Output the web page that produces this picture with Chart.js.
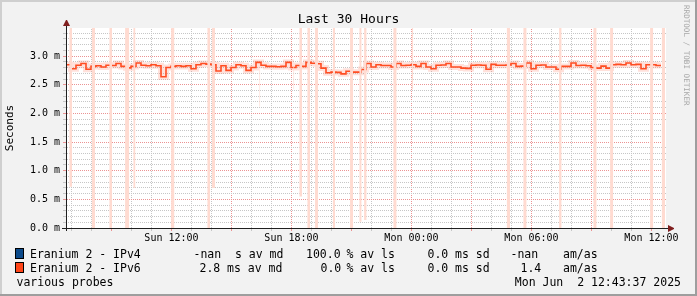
<!DOCTYPE html>
<html lang="en">
<head>
<meta charset="UTF-8">
<title>Last 30 Hours</title>
<script src="https://cdn.jsdelivr.net/npm/chart.js@4"></script>
<style>
  html, body { margin: 0; padding: 0; background: #f2f2f2; }
  #wrap { position: relative; width: 697px; height: 296px; background: #f2f2f2; overflow: hidden;
          font-family: "DejaVu Sans Mono", monospace; color: #000; }
  #wrap canvas { position: absolute; left: 0; top: 0; }
  .abs { position: absolute; }
  .txt { position: absolute; white-space: pre; font-size: 11.5px; line-height: 14px; }
  .title { position: absolute; left: 0; width: 697px; top: 11px; text-align: center; font-size: 13px; line-height: 16px; }
  .mark { position: absolute; left: 682px; top: 5px; writing-mode: vertical-rl; font-size: 7.6px; line-height: 8px;
          color: #a8a8a8; white-space: pre; }
  .box { position: absolute; left: 15px; width: 7px; height: 9px; border: 1px solid #000; }
</style>
</head>
<body>
<div id="wrap">
  <canvas id="rrdChart" width="697" height="296"></canvas>
  <!-- axes and arrows -->
  <div class="abs" style="left:66px;top:25px;width:1px;height:206px;background:#1f1f1f"></div>
  <div class="abs" style="left:62px;top:228px;width:608px;height:1px;background:#1f1f1f"></div>
  <div class="abs" style="left:63px;top:20px;width:1px;height:0;border-left:3px solid transparent;border-right:3px solid transparent;border-bottom:6px solid #801f1f"></div>
  <div class="abs" style="left:668px;top:225px;width:0;height:1px;border-top:3px solid transparent;border-bottom:3px solid transparent;border-left:6px solid #801f1f"></div>
  <div class="title">Last 30 Hours</div>
  <div class="mark">RRDTOOL / TOBI OETIKER</div>
  <div id="legend"></div>
  <div class="abs" style="left:0;top:0;width:697px;height:2px;background:#cfcfcf"></div>
  <div class="abs" style="left:0;top:0;width:2px;height:296px;background:#cfcfcf"></div>
  <div class="abs" style="left:0;top:294px;width:697px;height:2px;background:#9e9e9e"></div>
  <div class="abs" style="left:695px;top:0;width:2px;height:296px;background:#9e9e9e"></div>
</div>
<script>
// x axis is in hours since Sun Jun 1 2025 00:00
const startHour = 6.727;   // Sun 06:43:37
const endHour = 36.727;    // Mon 12:43:37
const stepHours = 0.25;    // one median value per 15 min

// Eranium 2 - IPv6 median RTT in ms
const ipv6Median = [
  2.85, 2.78, 2.84, 2.87, 2.77, 2.82, 2.83, 2.81, 2.84, 2.835,
  2.87, 2.82, 2.795, 2.82, 2.88, 2.84, 2.83, 2.85, 2.83, 2.64,
  2.80, 2.82, 2.83, 2.82, 2.83, 2.78, 2.85, 2.87, 2.86, 2.85,
  2.74, 2.83, 2.75, 2.80, 2.85, 2.83, 2.75, 2.80, 2.89, 2.84,
  2.82, 2.82, 2.815, 2.82, 2.89, 2.80, 2.835, 2.82, 2.89, 2.875,
  2.865, 2.79, 2.71, 2.72, 2.715, 2.69, 2.735, 2.72, 2.72, 2.765,
  2.87, 2.81, 2.85, 2.835, 2.835, 2.81, 2.87, 2.835, 2.84, 2.85,
  2.82, 2.87, 2.81, 2.78, 2.84, 2.845, 2.87, 2.81, 2.81, 2.79,
  2.785, 2.84, 2.845, 2.84, 2.77, 2.855, 2.84, 2.84, 2.845, 2.87,
  2.82, 2.825, 2.88, 2.78, 2.84, 2.845, 2.81, 2.81, 2.77, 2.82,
  2.82, 2.88, 2.835, 2.84, 2.83, 2.80, 2.79, 2.825, 2.79, 2.85,
  2.855, 2.85, 2.88, 2.85, 2.855, 2.78, 2.85, 2.85, 2.835, 2.835
];

// smoke columns (outlier pings), start/end in hours, low/high in ms
const smokeStart = [6.89, 8.01, 8.89, 9.68, 10.09, 11.98, 13.79, 14.01, 16.39, 18.09, 18.39, 18.79, 19.18,
                    20.06, 20.93, 21.39, 21.63, 23.09, 24.01, 28.76, 29.59, 31.38, 33.09, 33.93, 35.93, 36.51];
const smokeEnd   = [7.03, 8.18, 9.03, 9.89, 10.20, 12.15, 13.93, 14.18, 16.44, 18.14, 18.53, 18.93, 19.33,
                    20.18, 21.08, 21.51, 21.76, 23.26, 24.09, 28.93, 29.76, 31.51, 33.26, 34.09, 36.09, 36.68];
const smokeLow   = [0.72, 0, 0, 0, 0.70, 0, 0, 0.70, 2.12, 2.42, 0.55, 0, 0,
                    0, 0, 0.11, 0.14, 0, 2.42, 0, 0, 0, 0, 0, 0, 0];
const smokeHigh  = [3.49, 3.49, 3.49, 3.49, 3.49, 3.49, 3.49, 3.49, 2.80, 2.82, 3.49, 3.49, 3.49,
                    3.49, 3.49, 3.49, 3.49, 3.49, 3.49, 3.49, 3.49, 3.49, 3.49, 3.49, 3.49, 3.49];

// axis labels
const xLabelHours = [12, 18, 24, 30, 36];
const xLabelText = ['Sun 12:00', 'Sun 18:00', 'Mon 00:00', 'Mon 06:00', 'Mon 12:00'];
const yLabelValues = [0, 0.5, 1.0, 1.5, 2.0, 2.5, 3.0];
const yLabelText = ['0.0 m', '0.5 m', '1.0 m', '1.5 m', '2.0 m', '2.5 m', '3.0 m'];

// legend rows: [x, text]
const legendRow1 = [[30, 'Eranium 2 - IPv4'], [193.5, '-nan'], [235, 's av md'], [306, '100.0'], [346.5, '% av ls'],
                    [427.5, '0.0'], [455, 'ms sd'], [510.5, '-nan'], [563, 'am/as']];
const legendRow2 = [[30, 'Eranium 2 - IPv6'], [199.5, '2.8'], [227, 'ms av md'], [320.5, '0.0'], [346.5, '% av ls'],
                    [427.5, '0.0'], [455, 'ms sd'], [520.5, '1.4'], [563, 'am/as']];
const legendColors = ['#0c4a8a', '#ff4518'];

const MONO = 'DejaVu Sans Mono';
const minorColor = '#c6c6c6';
const majorColor = '#eb9393';

const canvas = document.getElementById('rrdChart');
const ctx = canvas.getContext('2d');

// rrdtool grid is dotted: a 2x2 checker used as stroke gives 1 on / 1 off
// on both horizontal and vertical lines, without line dashes
function dots(color) {
  const tile = document.createElement('canvas');
  tile.width = 2;
  tile.height = 2;
  const g = tile.getContext('2d');
  g.fillStyle = color;
  g.fillRect(0, 0, 1, 1);
  g.fillRect(1, 1, 1, 1);
  return ctx.createPattern(tile, 'repeat');
}
const minorGrid = dots(minorColor);
const majorGrid = dots(majorColor);

// legend text as html
const legend = document.getElementById('legend');
function addText(x, y, t, right) {
  const d = document.createElement('div');
  d.className = 'txt';
  d.style.top = (y - 7) + 'px';
  if (right) d.style.right = (697 - x) + 'px'; else d.style.left = x + 'px';
  d.textContent = t;
  legend.appendChild(d);
}
[legendRow1, legendRow2].forEach((row, r) => {
  const y = 254 + r * 14;
  const b = document.createElement('div');
  b.className = 'box';
  b.style.top = (y - 6) + 'px';
  b.style.background = legendColors[r];
  legend.appendChild(b);
  row.forEach(([x, t]) => addText(x, y, t));
});
addText(16.5, 282, 'various probes');
addText(681, 282, 'Mon Jun  2 12:43:37 2025', true);

const medianPoints = ipv6Median.map((v, i) => ({ x: startHour + i * stepHours, y: v }));

const smokeSets = smokeStart.map((s, i) => ({
  type: 'line',
  data: [{ x: s, y: smokeHigh[i] }, { x: smokeEnd[i], y: smokeHigh[i] }],
  fill: { value: smokeLow[i] },
  backgroundColor: '#ffdbd1',
  borderWidth: 0,
  pointRadius: 0
}));

// white plot canvas
const plotBack = {
  id: 'plotBack',
  beforeDraw(chart) {
    const { ctx, chartArea: a } = chart;
    ctx.save();
    ctx.fillStyle = '#fff';
    ctx.fillRect(a.left, a.top, a.right - a.left, a.bottom - a.top);
    ctx.restore();
  }
};

const isMajorY = c => c.tick && Math.round(c.tick.value * 10) % 5 === 0;
const isMajorX = c => c.tick && c.tick.value % 3 === 0;

new Chart(ctx, {
  type: 'line',
  data: {
    datasets: [
      ...smokeSets,
      {
        data: medianPoints,
        stepped: true,
        borderColor: 'rgba(255,120,90,0.22)',
        borderWidth: 6,
        pointRadius: 0,
        fill: false
      },
      {
        data: medianPoints,
        stepped: true,
        borderColor: '#ff4213',
        borderWidth: 1.6,
        pointRadius: 0,
        fill: false
      }
    ]
  },
  options: {
    responsive: false,
    animation: false,
    devicePixelRatio: 1,
    layout: { padding: { left: 0, top: 28, right: 31, bottom: 0 } },
    plugins: { legend: { display: false }, tooltip: { enabled: false } },
    scales: {
      x: {
        type: 'linear',
        min: startHour,
        max: endHour,
        afterBuildTicks: s => {
          const t = [];
          for (let h = 7; h <= 36; h++) t.push({ value: h });
          s.ticks = t;
        },
        afterFit: s => { s.height = 68; },
        ticks: {
          autoSkip: false,
          maxRotation: 0,
          padding: 1,
          color: '#000',
          font: { family: MONO, size: 10 },
          callback: v => {
            const k = xLabelHours.indexOf(v);
            return k >= 0 ? xLabelText[k] : '';
          }
        },
        grid: {
          color: c => (isMajorX(c) ? majorGrid : minorGrid),
          tickColor: c => (isMajorX(c) ? majorColor : minorColor),
          lineWidth: 1,
          tickLength: 3
        },
        border: { display: false }
      },
      y: {
        min: 0,
        max: 3.49,
        afterBuildTicks: s => {
          const t = [];
          for (let i = 0; i <= 34; i++) t.push({ value: i / 10 });
          s.ticks = t;
        },
        afterFit: s => { s.width = 66; },
        ticks: {
          autoSkip: false,
          padding: 3,
          color: '#000',
          font: { family: MONO, size: 10 },
          callback: v => {
            const k = yLabelValues.findIndex(l => Math.abs(l - v) < 1e-6);
            return k >= 0 ? yLabelText[k] : '';
          }
        },
        grid: {
          color: c => (isMajorY(c) ? majorGrid : minorGrid),
          tickColor: c => (isMajorY(c) ? majorColor : minorColor),
          lineWidth: 1,
          tickLength: 3
        },
        border: { display: false },
        title: {
          display: true,
          text: 'Seconds',
          color: '#000',
          font: { family: MONO, size: 11 },
          padding: { top: 4, bottom: 0 }
        }
      }
    }
  },
  plugins: [plotBack]
});
</script>
</body>
</html>
